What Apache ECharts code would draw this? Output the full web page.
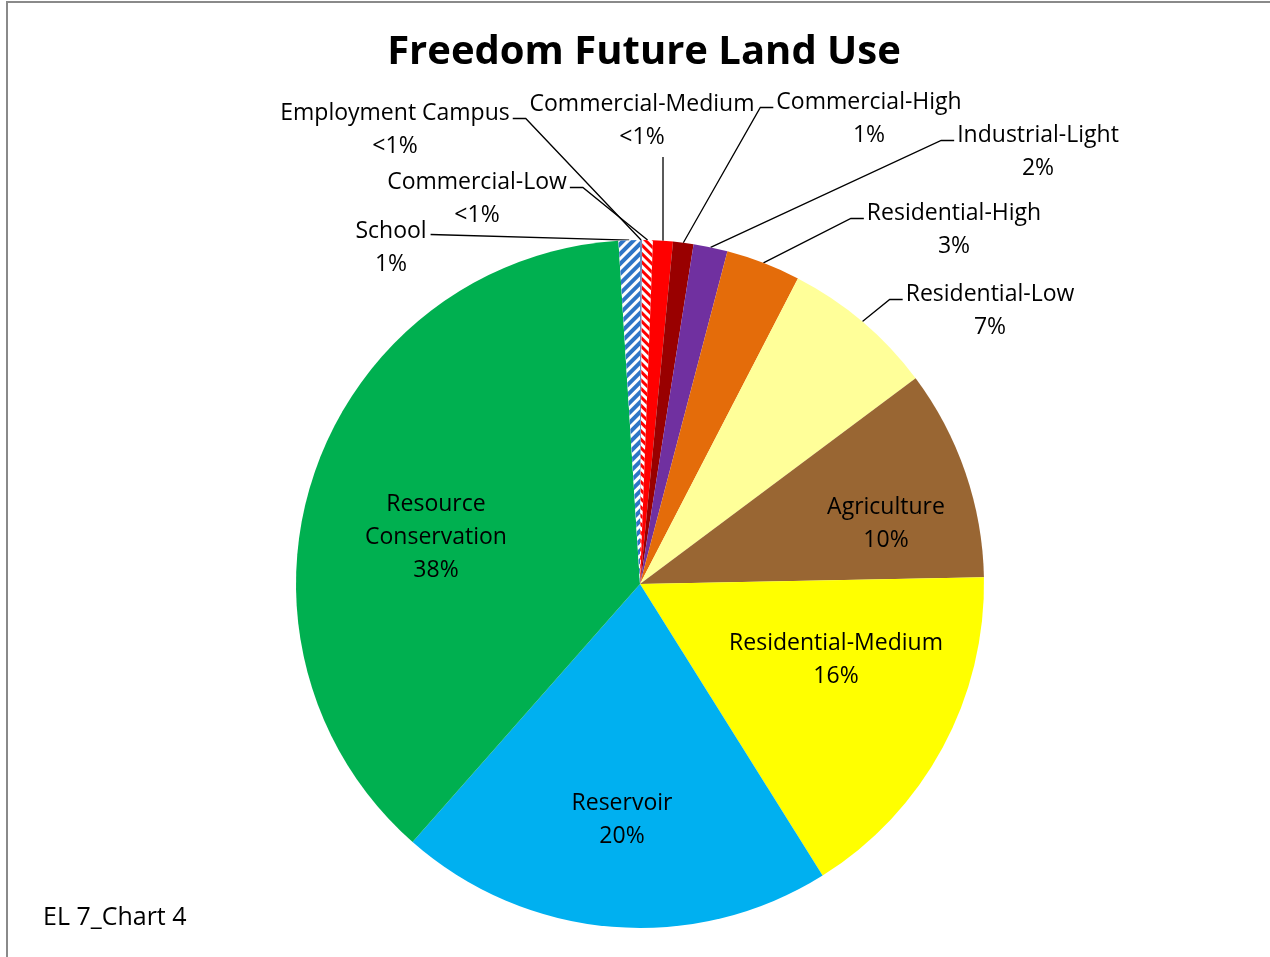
<!DOCTYPE html>
<html>
<head>
<meta charset="utf-8">
<script src="https://cdn.jsdelivr.net/npm/echarts@6/dist/echarts.min.js"></script>
<style>
html,body{margin:0;padding:0;background:#fff;}
#chart{width:1270px;height:957px;}
</style>
</head>
<body>
<div id="chart"></div>
<script>
// ---- data (clockwise from 12 o'clock) ----
const categories = ['Employment Campus','Commercial-Low','Commercial-Medium','Commercial-High','Industrial-Light','Residential-High','Residential-Low','Agriculture','Residential-Medium','Reservoir','Resource Conservation','School'];
const values = [0.1, 0.5, 0.93, 0.96, 1.6, 3.5, 7.2, 9.9, 16.4, 20.4, 37.5, 1.0];
const pctLabels = ['<1%','<1%','<1%','1%','2%','3%','7%','10%','16%','20%','38%','1%'];

// ---- styles / layout ----
const FONT = 'Open Sans';
const colors = ['#6F8FB8','#FFFFFF','#FF0000','#990000','#7030A0','#E46C0A','#FFFF99','#996633','#FFFF00','#00B0F0','#00B050','#FFFFFF'];
const decals = {
  1: {symbol:'rect', symbolSize:1, dashArrayX:[[1,0]], dashArrayY:[3,3], rotation: Math.PI/4, color:'#FF0000'},
  11:{symbol:'rect', symbolSize:1, dashArrayX:[[1,0]], dashArrayY:[4,3], rotation: -Math.PI/4, color:'#2E75C6'}
};
// label block centres and leader side
const labelLayoutCfg = [
  {x:395, y:130, side:'L'},
  {x:477, y:199, side:'L'},
  {x:642, y:121, side:'B'},
  {x:869, y:119, side:'R'},
  {x:1038,y:152, side:'R'},
  {x:954, y:230, side:'R'},
  {x:990, y:311, side:'R'},
  {x:886, y:524, side:'I'},
  {x:836, y:660, side:'I'},
  {x:622, y:820, side:'I'},
  {x:436, y:537, side:'I'},
  {x:391, y:248, side:'S'}
];
const LH = 33;

const data = categories.map((name, i) => {
  const inside = labelLayoutCfg[i].side === 'I';
  const item = {
    name: name,
    value: values[i],
    itemStyle: {color: colors[i]},
    label: {position: inside ? 'inside' : 'outside'},
    labelLine: {show: !inside}
  };
  if (decals[i]) item.itemStyle.decal = decals[i];
  return item;
});

const chart = echarts.init(document.getElementById('chart'), null, {renderer:'canvas'});
chart.setOption({
  backgroundColor: '#ffffff',
  animation: false,
  title: {
    text: 'Freedom Future Land Use',
    left: 639, top: 28, textAlign: 'center',
    textStyle: {fontFamily: FONT, fontSize: 40, fontWeight: 'bold', color: '#000'}
  },
  graphic: [
    {type:'rect', shape:{x:7, y:2, width:1300, height:1000}, style:{fill:'none', stroke:'#8a8a8a', lineWidth:2}, silent:true},
    {type:'text', left:43, top:905, style:{text:'EL 7_Chart 4', fontFamily:FONT, fontSize:25, fill:'#000'}}
  ],
  series: [{
    type: 'pie',
    center: [640, 584],
    radius: [0, 344],
    startAngle: 90,
    clockwise: true,
    avoidLabelOverlap: false,
    data: data,
    itemStyle: {borderWidth: 0},
    label: {
      show: true,
      fontFamily: FONT,
      fontSize: 23,
      lineHeight: LH,
      color: '#000',
      align: 'center',
      formatter: function (p) {
        let n = p.name;
        if (n === 'Resource Conservation') n = 'Resource\nConservation';
        return n + '\n' + pctLabels[p.dataIndex];
      }
    },
    labelLine: {show: true, lineStyle: {color:'#000', width: 1.3}},
    labelLayout: function (params) {
      const i = params.dataIndex;
      const c = labelLayoutCfg[i];
      const w = params.labelRect.width, h = params.labelRect.height;
      const out = {x: c.x, y: c.y, align: 'center', verticalAlign: 'middle'};
      const pts = params.labelLinePoints;
      if (pts && pts.length && c.side !== 'I') {
        const a = pts[0];
        const top = c.y - h / 2;
        const ya = top + LH / 2 + 5;
        if (c.side === 'L') {
          out.labelLinePoints = [[a[0], a[1]], [c.x + w/2 + 16, ya], [c.x + w/2 + 3, ya]];
        } else if (c.side === 'R') {
          out.labelLinePoints = [[a[0], a[1]], [c.x - w/2 - 16, ya], [c.x - w/2 - 3, ya]];
        } else if (c.side === 'B') {
          out.labelLinePoints = [[a[0], a[1]], [a[0], c.y + h/2 + 3], [a[0], c.y + h/2 + 3]];
        } else if (c.side === 'S') {
          out.labelLinePoints = [[a[0], a[1]], [c.x + w/2 + 4, top + LH/2 + 3], [c.x + w/2 + 4, top + LH/2 + 3]];
        }
      }
      return out;
    }
  }]
});
</script>
</body>
</html>
